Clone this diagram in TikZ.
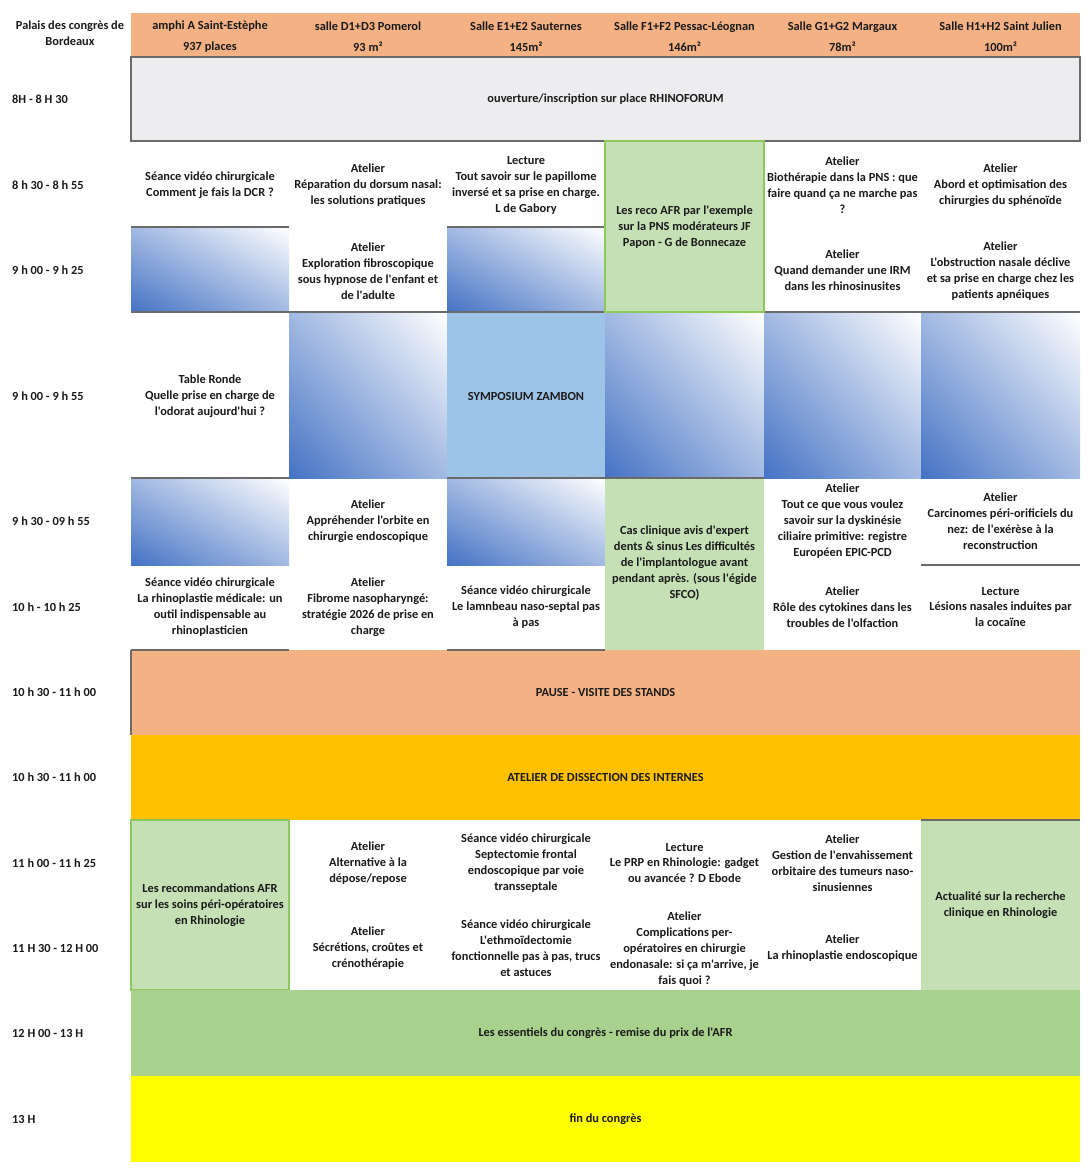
\documentclass[tikz,border=0pt]{standalone}
\usepackage{fontspec}
\setmainfont{Carlito}[Ligatures=TeXOff]
\usetikzlibrary{shadings}
\definecolor{hdr}{HTML}{F4B183}
\definecolor{gry}{HTML}{EDEDF0}
\definecolor{grn}{HTML}{C5E0B4}
\definecolor{grnb}{HTML}{8CC95A}
\definecolor{sym}{HTML}{9DC3E6}
\definecolor{gb}{HTML}{4472C4}
\definecolor{gm}{HTML}{A2B9E2}
\definecolor{dis}{HTML}{FFC000}
\definecolor{ess}{HTML}{A9D18E}
\definecolor{fin}{HTML}{FFFF00}
\definecolor{ln}{HTML}{6A6A6A}
\definecolor{tx}{HTML}{1A1A1A}
\newcommand\gcell[4]{\shade[lower left=gb, upper right=white, upper left=gm, lower right=gm] (#1,#2) rectangle (#3,#4);}
\begin{document}
\begin{tikzpicture}[x=1bp,y=-1bp,
  txt/.style={font=\bfseries\fontsize{12.4}{16}\selectfont, text=tx, align=center, inner sep=0pt},
  lab/.style={font=\bfseries\fontsize{12.4}{16}\selectfont, text=tx, anchor=west, inner sep=0pt},
  sep/.style={draw=ln, line width=1.3bp},
  gbox/.style={fill=grn, draw=grnb, line width=1.6bp}]
\useasboundingbox (0,0) rectangle (1092,1172);
\fill[white] (0,0) rectangle (1092,1172);

% header
\fill[hdr] (131,13) rectangle (1080,57);
\node[txt] (hpal) at (70,33) {Palais des congrès de\\Bordeaux};
\node[txt] (h1) at (210,37) {amphi A Saint-Estèphe\\[5bp]937 places};
\node[txt] (h2) at (368,37) {salle D1+D3 Pomerol\\[5bp]93 m²};
\node[txt] (h3) at (526,37) {Salle E1+E2 Sauternes\\[5bp]145m²};
\node[txt] (h4) at (684.5,37) {Salle F1+F2 Pessac-Léognan\\[5bp]146m²};
\node[txt] (h5) at (842.5,37) {Salle G1+G2 Margaux\\[5bp]78m²};
\node[txt] (h6) at (1000.5,37) {Salle H1+H2 Saint Julien\\[5bp]100m²};

% time labels
\node[lab] (t1) at (12,99) {8H - 8 H 30};
\node[lab] (t2) at (12,185) {8 h 30 - 8 h 55};
\node[lab] (t3) at (12,270) {9 h 00 - 9 h 25};
\node[lab] (t4) at (12,396) {9 h 00 - 9 h 55};
\node[lab] (t5) at (12,521) {9 h 30 - 09 h 55};
\node[lab] (t6) at (12,607) {10 h - 10 h 25};
\node[lab] (t7) at (12,692) {10 h 30 - 11 h 00};
\node[lab] (t8) at (12,777) {10 h 30 - 11 h 00};
\node[lab] (t9) at (12,863) {11 h 00 - 11 h 25};
\node[lab] (t10) at (12,948) {11 H 30 - 12 H 00};
\node[lab] (t11) at (12,1033) {12 H 00 - 13 H};
\node[lab] (t12) at (12,1119) {13 H};

% row 1
\fill[gry] (131,57) rectangle (1080,141);
\draw[sep] (131,57) rectangle (1080,141);
\node[txt] (ouv) at (605.5,99) {ouverture/inscription sur place RHINOFORUM};

% gradient cells
\gcell{131}{227}{289}{312}
\gcell{447}{227}{605}{312}
\gcell{289}{312}{447}{478}
\gcell{605}{312}{764}{478}
\gcell{764}{312}{921}{478}
\gcell{921}{312}{1080}{478}
\gcell{131}{478}{289}{565}
\gcell{447}{478}{605}{565}
\fill[sym] (447,312) rectangle (605,478);

% separators
\draw[sep] (131,227) -- (289,227);
\draw[sep] (447,227) -- (605,227);
\draw[sep] (131,312) -- (605,312);
\draw[sep] (764,312) -- (1080,312);
\draw[sep] (131,478) -- (289,478);
\draw[sep] (447,478) -- (764,478);
\draw[sep] (921,565) -- (1080,565);

% row 2
\node[txt] (c21) at (210,185) {Séance vidéo chirurgicale\\Comment je fais la DCR ?};
\node[txt] (c22) at (368,185) {Atelier\\Réparation du dorsum nasal:\\les solutions pratiques};
\node[txt] (c23) at (526,185.5) {Lecture\\Tout savoir sur le papillome\\inversé et sa prise en charge.\\L de Gabory};
\draw[gbox] (605,141) rectangle (764,312);
\node[txt] (c24) at (684.5,227) {Les reco AFR par l'exemple\\sur la PNS modérateurs JF\\Papon - G de Bonnecaze};
\node[txt] (c25) at (842.5,185.5) {Atelier\\Biothérapie dans la PNS : que\\faire quand ça ne marche pas\\?};
\node[txt] (c26) at (1000.5,185) {Atelier\\Abord et optimisation des\\chirurgies du sphénoïde};

% row 3
\node[txt] (c32) at (368,271) {Atelier\\Exploration fibroscopique\\sous hypnose de l'enfant et\\de l'adulte};
\node[txt] (c35) at (842.5,270) {Atelier\\Quand demander une IRM\\dans les rhinosinusites};
\node[txt] (c36) at (1000.5,271) {Atelier\\L'obstruction nasale déclive\\et sa prise en charge chez les\\patients apnéiques};

% row 4
\node[txt] (c41) at (210,396) {Table Ronde\\Quelle prise en charge de\\l'odorat aujourd'hui ?};
\node[txt] (c43) at (526,396) {SYMPOSIUM ZAMBON};

% row 5
\node[txt] (c52) at (368,521) {Atelier\\Appréhender l'orbite en\\chirurgie endoscopique};
\fill[grn] (605,478) rectangle (764,650);
\draw[sep] (605,478) -- (764,478);
\node[txt] (c54) at (684.5,563) {Cas clinique avis d'expert\\dents \& sinus Les difficultés\\de l'implantologue avant\\pendant après. (sous l'égide\\SFCO)};
\node[txt] (c55) at (842.5,521) {Atelier\\Tout ce que vous voulez\\savoir sur la dyskinésie\\ciliaire primitive: registre\\Européen EPIC-PCD};
\node[txt] (c56) at (1000.5,521) {Atelier\\Carcinomes péri-orificiels du\\nez: de l'exérèse à la\\reconstruction};

% row 6
\node[txt] (c61) at (210,607) {Séance vidéo chirurgicale\\La rhinoplastie médicale: un\\outil indispensable au\\rhinoplasticien};
\node[txt] (c62) at (368,607) {Atelier\\Fibrome nasopharyngé:\\stratégie 2026 de prise en\\charge};
\node[txt] (c63) at (526,607) {Séance vidéo chirurgicale\\Le lamnbeau naso-septal pas\\à pas};
\node[txt] (c65) at (842.5,607) {Atelier\\Rôle des cytokines dans les\\troubles de l'olfaction};
\node[txt] (c66) at (1000.5,607) {Lecture\\Lésions nasales induites par\\la cocaïne};

% pause
\fill[hdr] (131,650) rectangle (1080,735);
\draw[sep] (131,650) -- (289,650);
\draw[sep] (447,650) -- (605,650);
\draw[sep] (131,650) -- (131,735);
\node[txt] (pau) at (605.5,692) {PAUSE - VISITE DES STANDS};

% dissection
\fill[dis] (131,735) rectangle (1080,820);
\node[txt] (dis) at (605.5,777) {ATELIER DE DISSECTION DES INTERNES};

% rows 9-10
\draw[gbox] (131,820) rectangle (289,990);
\node[txt] (c91) at (210,905) {Les recommandations AFR\\sur les soins péri-opératoires\\en Rhinologie};
\node[txt] (c92) at (368,863) {Atelier\\Alternative à la\\dépose/repose};
\node[txt] (c93) at (526,863) {Séance vidéo chirurgicale\\Septectomie frontal\\endoscopique par voie\\transseptale};
\node[txt] (c94) at (684.5,863) {Lecture\\Le PRP en Rhinologie: gadget\\ou avancée ? D Ebode};
\node[txt] (c95) at (842.5,863) {Atelier\\Gestion de l'envahissement\\orbitaire des tumeurs naso-\\sinusiennes};
\fill[grn] (921,820) rectangle (1080,990);
\draw[sep] (921,820) -- (1080,820);
\node[txt] (c96) at (1000.5,905) {Actualité sur la recherche\\clinique en Rhinologie};
\node[txt] (c102) at (368,948) {Atelier\\Sécrétions, croûtes et\\crénothérapie};
\node[txt] (c103) at (526,948) {Séance vidéo chirurgicale\\L'ethmoïdectomie\\fonctionnelle pas à pas, trucs\\et astuces};
\node[txt] (c104) at (684.5,949) {Atelier\\Complications per-\\opératoires en chirurgie\\endonasale: si ça m'arrive, je\\fais quoi ?};
\node[txt] (c105) at (842.5,948) {Atelier\\La rhinoplastie endoscopique};

% essentiels / fin
\fill[ess] (131,990) rectangle (1080,1076);
\node[txt] (ess) at (605.5,1033) {Les essentiels du congrès - remise du prix de l'AFR};
\fill[fin] (131,1076) rectangle (1080,1162);
\node[txt] (fin) at (605.5,1119) {fin du congrès};
\end{tikzpicture}
\end{document}
